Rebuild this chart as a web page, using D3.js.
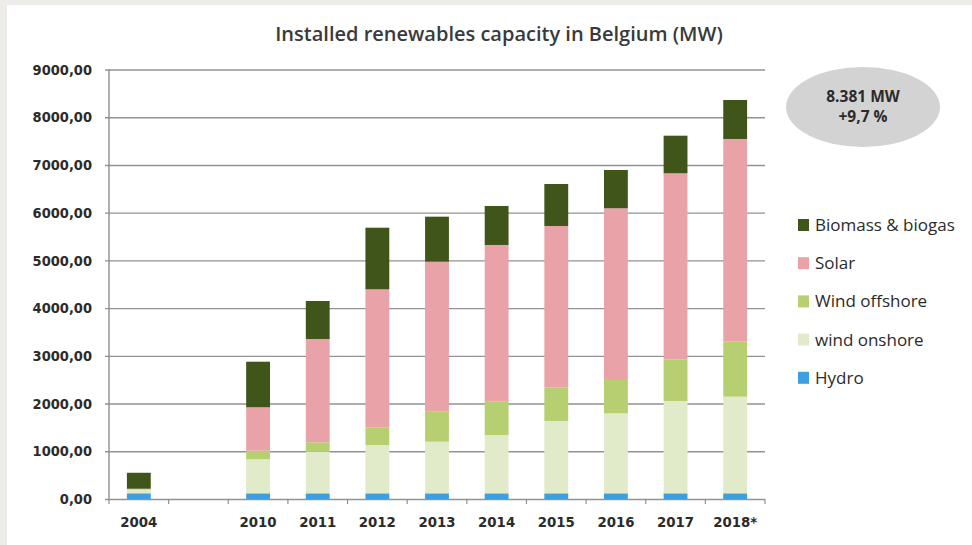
<!DOCTYPE html>
<html>
<head>
<meta charset="utf-8">
<script src="https://cdn.jsdelivr.net/npm/d3@7"></script>
<style>
  html, body { margin: 0; padding: 0; background: #edece8; }
  svg { display: block; }
</style>
</head>
<body>
<svg id="chart" width="972" height="545"></svg>
<script>
// data (MW)
var years = ["2004", "", "2010", "2011", "2012", "2013", "2014", "2015", "2016", "2017", "2018*"];
var hydro        = [120, null, 119, 119, 119, 119, 119, 119, 119, 119, 119];
var windOnshore  = [80, null, 713, 872, 1013, 1082, 1222, 1516, 1677, 1935, 2025];
var windOffshore = [0, null, 180, 197, 370, 628, 698, 706, 698, 874, 1153];
var solar        = [15, null, 910, 2165, 2892, 3144, 3284, 3380, 3598, 3897, 4247];
var biomass      = [335, null, 955, 796, 1291, 943, 817, 880, 802, 788, 817];
var seriesNames  = ["Hydro", "wind onshore", "Wind offshore", "Solar", "Biomass & biogas"];
var seriesColors = ["#3d9fdf", "#e1ebca", "#b6cf70", "#e9a2a8", "#405519"];
var yTicks = [0, 1000, 2000, 3000, 4000, 5000, 6000, 7000, 8000, 9000];
var title = "Installed renewables capacity in Belgium (MW)";
var bubbleLines = ["8.381 MW", "+9,7 %"];

var labelFont = "'DejaVu Sans Condensed', 'DejaVu Sans', sans-serif";

var svg = d3.select("#chart");

// white panel on the grey page
svg.append("rect").attr("x", 7).attr("y", 5).attr("width", 965).attr("height", 540).attr("fill", "#fff");

var margin = { left: 109, right: 207, top: 69.5, bottom: 46 };
var width = 972 - margin.left - margin.right,
    height = 545 - margin.top - margin.bottom;

var x = d3.scaleBand().domain(d3.range(years.length)).range([0, width]).paddingInner(0.6).paddingOuter(0.3);
var y = d3.scaleLinear().domain([0, 9000]).range([height, 0]);

var rows = years.map(function (yr, i) {
    return { i: i, "Hydro": hydro[i] || 0, "wind onshore": windOnshore[i] || 0, "Wind offshore": windOffshore[i] || 0,
             "Solar": solar[i] || 0, "Biomass & biogas": biomass[i] || 0, empty: hydro[i] === null };
});
var stacked = d3.stack().keys(seriesNames)(rows);

var g = svg.append("g").attr("transform", "translate(" + margin.left + "," + margin.top + ")");

svg.append("text")
    .attr("x", 499).attr("y", 41)
    .attr("text-anchor", "middle")
    .attr("font-family", "Open Sans")
    .attr("font-weight", 600)
    .attr("font-size", 20)
    .attr("fill", "#3a3a3a")
    .text(title);

// gridlines + y labels
var fmt = d3.formatLocale({ decimal: ",", thousands: ".", grouping: [3] }).format(".2f");
var yAxis = d3.axisLeft(y).tickValues(yTicks).tickSize(-width - 4).tickPadding(13).tickFormat(fmt);
var ya = g.append("g").attr("transform", "translate(-4,0)").call(yAxis);
ya.select(".domain").remove();
ya.selectAll(".tick line").attr("stroke", "#929292").attr("stroke-width", 1.4).attr("x1", 0).attr("x2", width + 4);
ya.selectAll(".tick text")
    .attr("font-family", labelFont).attr("font-weight", "bold").attr("font-size", 14.5).attr("fill", "#2b2b2b");

// bars
g.selectAll(".layer")
    .data(stacked)
    .enter().append("g")
    .attr("class", "layer")
    .attr("fill", function (d, k) { return seriesColors[k]; })
    .selectAll("rect")
    .data(function (d) { return d.filter(function (p) { return !p.data.empty; }); })
    .enter().append("rect")
    .attr("x", function (d) { return x(d.data.i); })
    .attr("width", x.bandwidth())
    .attr("y", function (d) { return y(d[1]); })
    .attr("height", function (d) { return y(d[0]) - y(d[1]); });

// y axis line
g.append("line").attr("x1", 0).attr("x2", 0).attr("y1", 0).attr("y2", height)
    .attr("stroke", "#8f8f8f").attr("stroke-width", 1.4);

// x axis: ticks at band edges, labels centred
var step = x.step();
var xEdges = d3.range(years.length + 1);
g.append("g").selectAll("line").data(xEdges).enter().append("line")
    .attr("x1", function (k) { return k * step; }).attr("x2", function (k) { return k * step; })
    .attr("y1", height).attr("y2", height + 5)
    .attr("stroke", "#8f8f8f").attr("stroke-width", 1.2);
g.append("g").selectAll("text").data(years).enter().append("text")
    .attr("x", function (d, i) { return x(i) + x.bandwidth() / 2; })
    .attr("y", height + 28)
    .attr("text-anchor", "middle")
    .attr("font-family", labelFont).attr("font-weight", "bold").attr("font-size", 14.8)
    .attr("fill", "#2b2b2b")
    .text(function (d) { return d; });

// bubble
svg.append("ellipse").attr("cx", 863).attr("cy", 107).attr("rx", 77).attr("ry", 40).attr("fill", "#d3d3d3");
svg.selectAll(".bub").data(bubbleLines).enter().append("text")
    .attr("class", "bub")
    .attr("x", 863).attr("y", function (d, i) { return 101.5 + i * 20.5; })
    .attr("text-anchor", "middle")
    .attr("font-family", "Open Sans").attr("font-weight", 700).attr("font-size", 15.5)
    .attr("fill", "#2b2b2b")
    .text(function (d) { return d; });

// legend, top to bottom in reverse stack order
var legendItems = seriesNames.slice().reverse();
var lg = svg.append("g").attr("transform", "translate(798,219)");
var li = lg.selectAll("g").data(legendItems).enter().append("g")
    .attr("transform", function (d, i) { return "translate(0," + i * 38.2 + ")"; });
li.append("rect").attr("width", 11).attr("height", 12)
    .attr("fill", function (d) { return seriesColors[seriesNames.indexOf(d)]; });
li.append("text").attr("x", 17).attr("y", 12)
    .attr("font-family", "Open Sans").attr("font-size", 17).attr("fill", "#2b2b2b")
    .text(function (d) { return d; });
</script>
</body>
</html>
